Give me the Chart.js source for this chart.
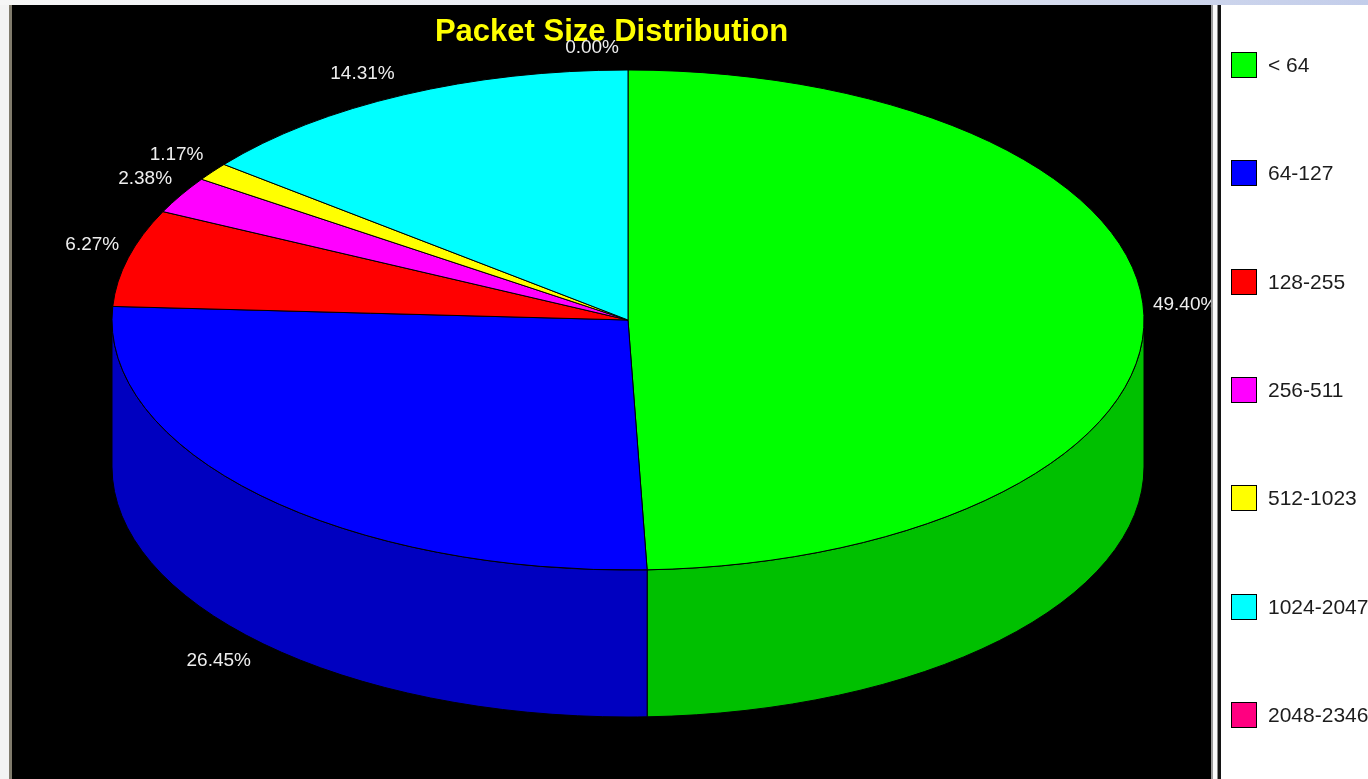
<!DOCTYPE html>
<html>
<head>
<meta charset="utf-8">
<title>Packet Size Distribution</title>
<script src="https://cdn.jsdelivr.net/npm/chart.js@4.4.1/dist/chart.umd.min.js"></script>
<style>
  html, body { margin: 0; padding: 0; background: #f3f3f3; overflow: hidden; }
  canvas { display: block; }
</style>
</head>
<body>
<canvas id="pktChart" width="1368" height="779"></canvas>
<script>
// packet size buckets and their share of traffic (%)
const sizeBins = ["< 64", "64-127", "128-255", "256-511", "512-1023", "1024-2047", "2048-2346"];
const sharePct = [49.40, 26.45, 6.27, 2.38, 1.17, 14.31, 0.00];

const topColors = ["#00ff00", "#0000ff", "#ff0000", "#ff00ff", "#ffff00", "#00ffff", "#ff0080"];
const sideColors = ["#00c000", "#0000c0", "#c00000", "#c000c0", "#c0c000", "#00c0c0", "#c00060"];

// tilted disc geometry (top face ellipse + wall height)
const DISC = { cx: 628, cy: 320, rx: 516, ry: 250, depth: 147 };
const PLOT = { left: 12, top: 5, right: 1211 };
const FONT = "'Liberation Sans', Arial, sans-serif";

function discPoint(angle, drop) {
  return {
    x: DISC.cx + DISC.rx * Math.cos(angle),
    y: DISC.cy + DISC.ry * Math.sin(angle) + drop,
  };
}

// window frame + black plot background
const frame = {
  id: "frame",
  beforeDraw(chart) {
    const ctx = chart.ctx;
    const W = chart.width, H = chart.height;
    ctx.save();
    ctx.fillStyle = "#f3f3f3";
    ctx.fillRect(0, 0, W, H);
    const g = ctx.createLinearGradient(0, 0, W, 0);
    g.addColorStop(0, "#f6f6f6");
    g.addColorStop(0.6, "#e3e7f1");
    g.addColorStop(1, "#c3cdea");
    ctx.fillStyle = g;
    ctx.fillRect(0, 0, W, PLOT.top);
    ctx.fillStyle = "#807b6c";
    ctx.fillRect(9, PLOT.top, 3, H);
    ctx.fillStyle = "#000";
    ctx.fillRect(PLOT.left, PLOT.top, PLOT.right - PLOT.left, H);
    ctx.restore();
  },
};

// draws the disc walls, squashes the pie into an ellipse, then adds % labels
const disc3d = {
  id: "disc3d",
  beforeDatasetsDraw(chart) {
    const ctx = chart.ctx;
    const arcs = chart.getDatasetMeta(0).data;

    ctx.save();
    ctx.lineWidth = 1;
    ctx.strokeStyle = "#000";
    arcs.forEach((arc, i) => {
      const a1 = Math.max(arc.startAngle, 0);
      const a2 = Math.min(arc.endAngle, Math.PI);
      if (a2 <= a1) return;
      ctx.beginPath();
      ctx.ellipse(DISC.cx, DISC.cy, DISC.rx, DISC.ry, 0, a1, a2);
      ctx.ellipse(DISC.cx, DISC.cy + DISC.depth, DISC.rx, DISC.ry, 0, a2, a1, true);
      ctx.closePath();
      ctx.fillStyle = sideColors[i];
      ctx.fill();
      ctx.stroke();
    });
    ctx.restore();

    const { x, y, outerRadius } = arcs[0];
    const dpr = chart.currentDevicePixelRatio;
    ctx.save();
    ctx.translate(DISC.cx, DISC.cy);
    ctx.scale(DISC.rx / outerRadius, DISC.ry / outerRadius);
    ctx.translate(-x, -y);
    // keep slice outlines 1px even though the disc is squashed
    const stroke = CanvasRenderingContext2D.prototype.stroke;
    ctx.stroke = function () {
      this.save();
      this.setTransform(dpr, 0, 0, dpr, 0, 0);
      stroke.apply(this, arguments);
      this.restore();
    };
  },
  afterDatasetsDraw(chart) {
    const ctx = chart.ctx;
    delete ctx.stroke;
    ctx.restore();

    const arcs = chart.getDatasetMeta(0).data;
    const values = chart.data.datasets[0].data;
    ctx.save();
    ctx.font = `19px ${FONT}`;
    ctx.fillStyle = "#eeeeee";
    ctx.textAlign = "center";
    ctx.textBaseline = "middle";
    arcs.forEach((arc, i) => {
      const mid = (arc.startAngle + arc.endAngle) / 2;
      const s = Math.sin(mid), c = Math.cos(mid);
      const front = s > 0;
      const p = discPoint(mid, front ? DISC.depth : 0);
      const text = values[i].toFixed(2) + "%";
      const w = ctx.measureText(text).width;
      const dx = (c > 0.01 ? 1 : -1) * (w / 2 + 9);
      const dy = (front ? 1 : -1) * (10 + 12 * Math.abs(s));
      ctx.fillText(text, p.x + dx, p.y + dy);
    });
    ctx.restore();
  },
};

// legend column on the right
const sideLegend = {
  id: "sideLegend",
  afterDraw(chart) {
    const ctx = chart.ctx;
    const W = chart.width, H = chart.height;
    ctx.save();
    ctx.fillStyle = "#9c9c9c";
    ctx.fillRect(1211, PLOT.top, 2, H);
    ctx.fillStyle = "#fbfbfb";
    ctx.fillRect(1213, PLOT.top, 4, H);
    ctx.fillStyle = "#8c8c8c";
    ctx.fillRect(1217, PLOT.top, 1, H);
    ctx.fillStyle = "#141414";
    ctx.fillRect(1218, PLOT.top, 3, H);
    ctx.fillStyle = "#ffffff";
    ctx.fillRect(1221, PLOT.top, W - 1221, H);

    const items = chart.options.plugins.legend.labels.generateLabels(chart);
    ctx.font = `21px ${FONT}`;
    ctx.textAlign = "left";
    ctx.textBaseline = "middle";
    items.forEach((item, i) => {
      const yc = Math.round(65 + i * 108.3);
      ctx.fillStyle = item.fillStyle;
      ctx.fillRect(1231, yc - 13, 26, 26);
      ctx.lineWidth = 1;
      ctx.strokeStyle = "#000";
      ctx.strokeRect(1231.5, yc - 12.5, 25, 25);
      ctx.fillStyle = "#1c1c1c";
      ctx.fillText(item.text, 1268, yc + 1);
    });
    ctx.restore();
  },
};

new Chart(document.getElementById("pktChart"), {
  type: "pie",
  data: {
    labels: sizeBins,
    datasets: [
      {
        data: sharePct,
        backgroundColor: topColors,
        borderColor: "#000",
        borderWidth: 1,
      },
    ],
  },
  options: {
    responsive: false,
    devicePixelRatio: 1,
    animation: false,
    events: [],
    layout: { padding: { top: PLOT.top, left: PLOT.left, right: 1368 - PLOT.right, bottom: 0 } },
    plugins: {
      legend: { display: false },
      tooltip: { enabled: false },
      title: {
        display: true,
        text: "Packet Size Distribution",
        color: "#ffff00",
        font: { family: FONT, size: 31, weight: "bold" },
        padding: { top: 9, bottom: 0 },
      },
    },
  },
  plugins: [frame, disc3d, sideLegend],
});
</script>
</body>
</html>
